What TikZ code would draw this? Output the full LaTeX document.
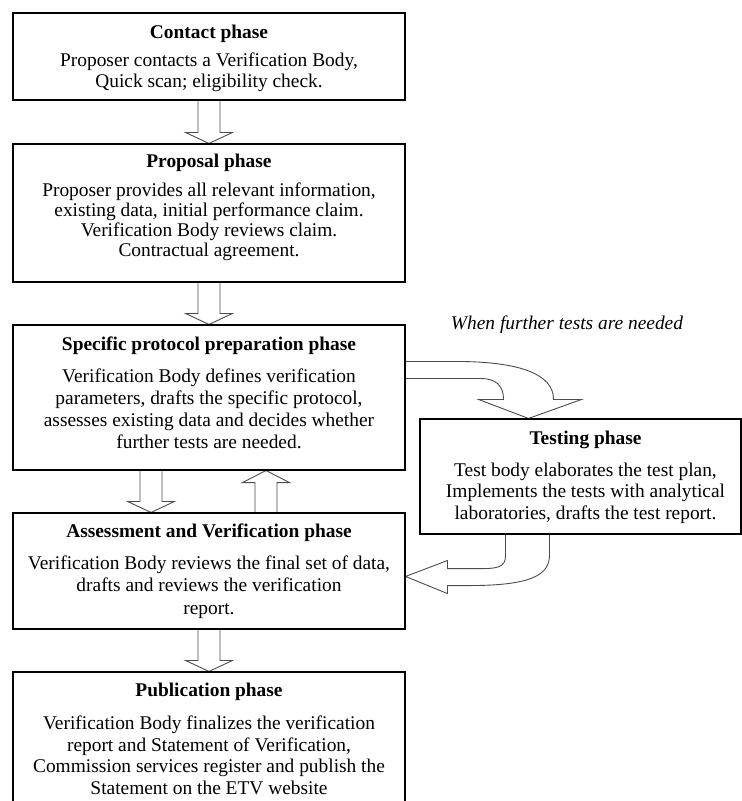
\documentclass[tikz,border=0pt]{standalone}
\usepackage{fontspec}
\setmainfont{Liberation Serif}
\usetikzlibrary{calc,backgrounds}
\newcommand{\blkdown}[3]{%
  \draw[blk] let \p1=($(#1)+(#3,0)$), \p2=(#2) in
    (\x1-11pt,\y1) -- (\x1-11pt,\y2+11pt) -- (\x1-23.5pt,\y2+11pt) -- (\x1,\y2)
    -- (\x1+23.5pt,\y2+11pt) -- (\x1+11pt,\y2+11pt) -- (\x1+11pt,\y1);}
\newcommand{\blkup}[3]{%
  \draw[blk] let \p1=($(#1)+(#3,0)$), \p2=(#2) in
    (\x1-11pt,\y1) -- (\x1-11pt,\y2-12pt) -- (\x1-23.5pt,\y2-12pt) -- (\x1,\y2)
    -- (\x1+23.5pt,\y2-12pt) -- (\x1+11pt,\y2-12pt) -- (\x1+11pt,\y1);}
\begin{document}
\begin{tikzpicture}[x=1pt,y=-1pt,
  box/.style={draw=black, line width=1.1pt, minimum width=392pt, inner sep=0pt},
  tbox/.style={draw=black, line width=1.1pt, minimum width=321pt, minimum height=115pt, inner sep=0pt},
  txt/.style={align=center, inner sep=0pt, font=\fontsize{19.4}{21.5}\selectfont},
  note/.style={inner sep=0pt, font=\fontsize{19.4}{21.5}\selectfont\itshape},
  blk/.style={draw=black!70, line width=0.9pt, fill=white, line join=miter}]
\useasboundingbox (0,0) rectangle (742,801);

% boxes
\node[box, minimum height=87pt]  (contact) at (209,56.5) {};
\node[box, minimum height=138pt] (proposal) at (209,213) {};
\node[box, minimum height=145pt] (spec) at (209,397.5) {};
\node[box, minimum height=116pt] (assess) at (209,571) {};
\node[box, minimum height=132pt] (pub) at (209,738) {};
\node[tbox] (test) at (580.5,476.5) {};

% texts
\node[txt] (contact-t) at ($(contact.center)+(0,2)$)
  {\textbf{Contact phase}\\[6pt]
   Proposer contacts a Verification Body,\\
   Quick scan; eligibility check.};
\node[txt, font=\fontsize{19.4}{19.7}\selectfont] (proposal-t) at ($(proposal.center)+(0,-6)$)
  {\textbf{Proposal phase}\\[10pt]
   Proposer provides all relevant information,\\
   existing data, initial performance claim.\\
   Verification Body reviews claim.\\
   Contractual agreement.};
\node[txt, font=\fontsize{19.4}{22}\selectfont] (spec-t) at ($(spec.center)+(0,-5)$)
  {\textbf{Specific protocol preparation phase}\\[10pt]
   Verification Body defines verification\\
   parameters, drafts the specific protocol,\\
   assesses existing data and decides whether\\
   further tests are needed.};
\node[txt] (test-t) at ($(test.center)+(5,1)$)
  {\textbf{Testing phase}\\[10pt]
   Test body elaborates the test plan,\\
   Implements the tests with analytical\\
   laboratories, drafts the test report.};
\node[txt, font=\fontsize{19.4}{22.5}\selectfont] (assess-t) at ($(assess.center)+(0,0)$)
  {\textbf{Assessment and Verification phase}\\[9pt]
   Verification Body reviews the final set of data,\\
   drafts and reviews the verification\\
   report.};
\node[txt, font=\fontsize{19.4}{21.7}\selectfont] (pub-t) at ($(pub.center)+(0,1)$)
  {\textbf{Publication phase}\\[11pt]
   Verification Body finalizes the verification\\
   report and Statement of Verification,\\
   Commission services register and publish the\\
   Statement on the ETV website};
\node[note] (cond) at (567,325) {When further tests are needed};

% arrows
\begin{scope}[on background layer]
\blkdown{contact.south}{proposal.north}{0}
\blkdown{proposal.south}{spec.north}{0}
\blkdown{spec.south}{assess.north}{-58}
\blkup{assess.north}{spec.south}{57}
\blkdown{assess.south}{pub.north}{0}

\coordinate (s) at (spec.north east);
\coordinate (ttip) at ($(test.north west)+(109,0)$);
\draw[blk] ($(s)+(0,37)$) -- ($(s)+(50,37)$)
  .. controls ($(s)+(115,37)$) and ($(s)+(148,50)$) .. ($(s)+(148,75)$)
  -- ($(s)+(176,75)$) -- (ttip) -- ($(s)+(73,75)$) -- ($(s)+(98,75)$)
  .. controls ($(s)+(98,61)$) and ($(s)+(90,54)$) .. ($(s)+(75,54)$)
  -- ($(s)+(0,54)$);

\coordinate (w) at (test.south west);
\coordinate (atip) at ($(assess.north east)+(0,64)$);
\draw[blk] ($(w)+(86,0)$) -- ($(w)+(86,22)$)
  .. controls ($(w)+(86,32)$) and ($(w)+(78,34)$) .. ($(w)+(64,34)$)
  -- ($(w)+(28,34)$) -- ($(w)+(28,26)$) -- (atip) -- ($(w)+(28,59)$)
  -- ($(w)+(28,51)$) -- ($(w)+(50,51)$)
  .. controls ($(w)+(110,51)$) and ($(w)+(130,41)$) .. ($(w)+(130,21)$)
  -- ($(w)+(130,0)$);
\end{scope}
\end{tikzpicture}
\end{document}
